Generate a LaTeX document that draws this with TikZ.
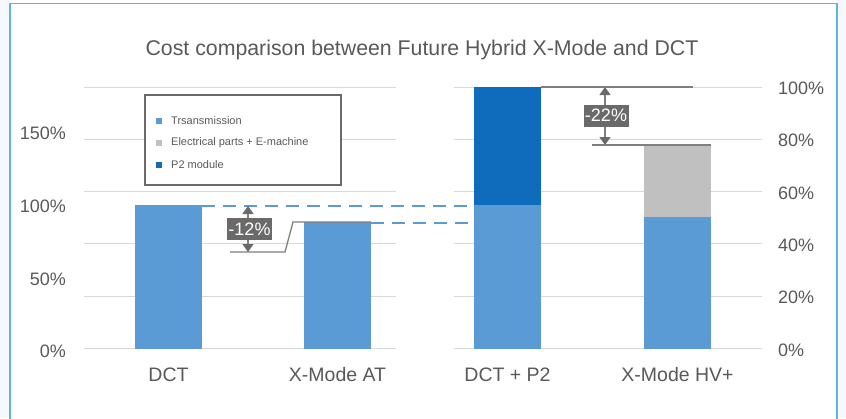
\documentclass[tikz,border=0pt]{standalone}
\usepackage{fontspec}
\setmainfont{Liberation Sans}
\usetikzlibrary{arrows.meta}
\definecolor{txt}{HTML}{595959}
\definecolor{grid}{HTML}{D9D9D9}
\definecolor{lblue}{HTML}{5B9BD5}
\definecolor{dblue}{HTML}{0F6CBD}
\definecolor{lgray}{HTML}{C0C0C0}
\definecolor{anno}{HTML}{7F7F7F}
\definecolor{annobox}{HTML}{6A6A6A}
\definecolor{frame}{HTML}{5BB8D8}
\tikzset{
  axl/.style={font=\fontsize{18}{18}\selectfont, text=txt, inner sep=0pt},
  catl/.style={font=\fontsize{19.5}{19.5}\selectfont, text=txt, inner sep=0pt},
  legt/.style={font=\fontsize{11}{11}\selectfont, text=txt, inner sep=0pt, anchor=west},
  gridline/.style={draw=grid, line width=1pt},
  annoline/.style={draw=anno, line width=1.3pt},
  dbl/.style={draw=anno, line width=1.3pt, {Triangle[width=11pt,length=8pt,color=annobox]}-{Triangle[width=11pt,length=8pt,color=annobox]}},
  pct/.style={fill=annobox, text=white, font=\fontsize{18}{18}\selectfont, inner sep=0pt, minimum width=45pt, minimum height=22pt},
  dashl/.style={draw=lblue, line width=2.6pt, dash pattern=on 13pt off 8pt},
}
\begin{document}
\begin{tikzpicture}[x=1pt,y=-1pt]
\useasboundingbox (0,0) rectangle (846,418);
\fill[white] (0,0) rectangle (846,418);
\fill[blue!3] (0,0) rectangle (9,418);
\fill[blue!3] (838,0) rectangle (846,418);
\draw[frame, line width=1.5pt] (10,425) -- (10,3.5) -- (837,3.5) -- (837,425);

% title
\node[font=\fontsize{21.3}{21.3}\selectfont, text=txt] (title) at (422,50) {Cost comparison between Future Hybrid X-Mode and DCT};

% gridlines
\foreach \y in {87,139.3,191.6,243.9,296.2,348.5} {
  \draw[gridline] (84,\y) -- (396,\y);
  \draw[gridline] (454,\y) -- (762,\y);
}

% bars
\fill[lblue] (135,205) rectangle (202,348.5);
\fill[lblue] (304,222) rectangle (371,348.5);
\fill[lblue] (474,205) rectangle (541,348.5);
\fill[dblue] (474,87) rectangle (541,205);
\fill[lblue] (644,217) rectangle (711,348.5);
\fill[lgray] (644,145) rectangle (711,217);

\coordinate (dctTop) at (202,206);
\coordinate (p2Mid) at (474,206);
\coordinate (atTop) at (371,223);
\coordinate (p2Low) at (474,223);
\draw[dashl] (dctTop) -- (p2Mid);
\draw[dashl] (atTop) -- (p2Low);

% -12% annotation
\coordinate (a1) at (230,252);
\coordinate (a2) at (285,252);
\coordinate (a3) at (293,222);
\coordinate (a4) at (371,222);
\draw[annoline] (a1) -- (a2) -- (a3) -- (a4);
\coordinate (arA) at (248,206);
\coordinate (arB) at (248,252);
\draw[dbl] (arA) -- (arB);
\node[pct] (p12) at (249.5,229) {-12\%};

% -22% annotation
\coordinate (b1) at (541,87);
\coordinate (b2) at (693,87);
\draw[annoline] (b1) -- (b2);
\coordinate (b3) at (592,145);
\coordinate (b4) at (711,145);
\draw[annoline] (b3) -- (b4);
\coordinate (brA) at (605,87);
\coordinate (brB) at (605,145);
\draw[dbl] (brA) -- (brB);
\node[pct] (p22) at (606,115.5) {-22\%};

% legend
\node[draw=annobox, line width=1.2pt, fill=white, minimum width=196pt, minimum height=90pt, inner sep=0pt] (leg) at (243,140) {};
\fill[lblue] (156,118) rectangle (162,124);
\fill[lgray] (156,140) rectangle (162,146);
\fill[dblue] (156,162) rectangle (162,168);
\node[legt] (l1) at (171,121) {Trsansmission};
\node[legt] (l2) at (171,143) {Electrical parts + E-machine};
\node[legt] (l3) at (171,165) {P2 module};

% left axis
\node[axl, anchor=east] (y150) at (66,133) {150\%};
\node[axl, anchor=east] (y100) at (66,206) {100\%};
\node[axl, anchor=east] (y50) at (66,279) {50\%};
\node[axl, anchor=east] (y0) at (66,351) {0\%};

% right axis
\node[axl, anchor=west] (r100) at (778,88) {100\%};
\node[axl, anchor=west] (r80) at (778,140.5) {80\%};
\node[axl, anchor=west] (r60) at (778,193) {60\%};
\node[axl, anchor=west] (r40) at (778,245) {40\%};
\node[axl, anchor=west] (r20) at (778,297.5) {20\%};
\node[axl, anchor=west] (r0) at (778,350) {0\%};

% categories
\node[catl] (c1) at (168.5,375) {DCT};
\node[catl] (c2) at (337.5,375) {X-Mode AT};
\node[catl] (c3) at (507.5,375) {DCT + P2};
\node[catl] (c4) at (677.5,375) {X-Mode HV+};
\end{tikzpicture}
\end{document}
